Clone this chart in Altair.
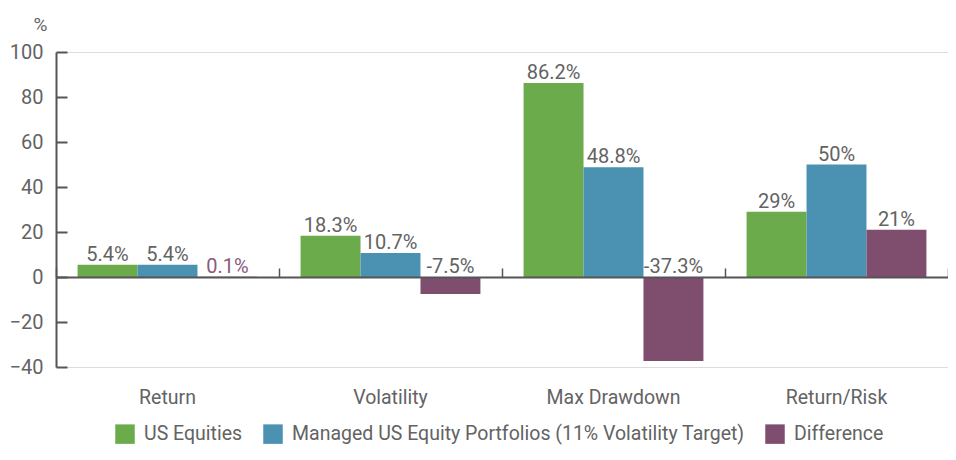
import altair as alt
import pandas as pd

categories = ["Return", "Volatility", "Max Drawdown", "Return/Risk"]
series = ["US Equities", "Managed US Equity Portfolios (11% Volatility Target)", "Difference"]
us_equities = [5.4, 18.3, 86.2, 29]
managed = [5.4, 10.7, 48.8, 50]
difference = [0.1, -7.5, -37.3, 21]
labels_us = ["5.4%", "18.3%", "86.2%", "29%"]
labels_managed = ["5.4%", "10.7%", "48.8%", "50%"]
labels_diff = ["0.1%", "-7.5%", "-37.3%", "21%"]
y_ticks = [-40, -20, 0, 20, 40, 60, 80, 100]
colors = ["#6cab4c", "#4a91b2", "#7f4e6e"]

rows = []
for s, vals, labs in zip(series, [us_equities, managed, difference], [labels_us, labels_managed, labels_diff]):
    for c, v, l in zip(categories, vals, labs):
        rows.append({"category": c, "series": s, "value": v, "label": l})
df = pd.DataFrame(rows)

FONT = "Roboto"
GREY = "#636363"
W, H = 892, 315

x_scale = alt.Scale(domain=categories, paddingInner=0, paddingOuter=0)
off_scale = alt.Scale(domain=series, paddingInner=0, paddingOuter=0.36)
y_scale = alt.Scale(domain=[-40, 100], nice=False, zero=False)

base = alt.Chart(df)

bars = base.mark_bar(cornerRadius=0).encode(
    x=alt.X("category:N", scale=x_scale, sort=categories,
            axis=alt.Axis(orient="bottom", title=None, domain=False, ticks=False,
                          labelAngle=0, labelFontSize=19.5, labelColor=GREY,
                          labelFont=FONT, labelPadding=21)),
    xOffset=alt.XOffset("series:N", sort=series, scale=off_scale),
    y=alt.Y("value:Q", scale=y_scale,
            axis=alt.Axis(orient="left", values=y_ticks, title="%", titleAngle=0,
                          titleX=-16, titleY=-28, titleAlign="center", titleBaseline="middle",
                          titleFont=FONT, titleFontSize=19, titleFontWeight="normal", titleColor=GREY,
                          domain=True, domainColor="#555555", domainWidth=2,
                          ticks=False, tickSize=0, grid=False,
                          labelFontSize=20, labelColor=GREY, labelFont=FONT, labelPadding=13)),
    color=alt.Color("series:N", sort=series, scale=alt.Scale(domain=series, range=colors),
                    legend=alt.Legend(title=None, orient="none", direction="horizontal",
                                      legendX=59, legendY=372, symbolType="square", symbolSize=380,
                                      symbolStrokeWidth=0, symbolOpacity=1, labelLimit=0,
                                      labelFont=FONT, labelFontSize=19.5, labelColor=GREY,
                                      labelOffset=9, columnPadding=20, padding=0)),
)

text = base.mark_text(baseline="alphabetic", align="center", dy=-4, font=FONT, fontSize=20).transform_calculate(
    ly="max(datum.value, 0)"
).encode(
    x=alt.X("category:N", scale=x_scale, sort=categories,
            axis=alt.Axis(orient="top", offset=-225, title=None, labels=False,
                          domain=True, domainColor="#555555", domainWidth=2,
                          ticks=True, tickBand="extent", tickSize=9, tickColor="#555555", tickWidth=1.5,
                          zindex=1)),
    xOffset=alt.XOffset("series:N", sort=series, scale=off_scale),
    y=alt.Y("ly:Q", scale=y_scale,
            axis=alt.Axis(orient="right", offset=-W, values=y_ticks, title=None, labels=False,
                          domain=False, ticks=True, tickSize=11, tickColor="#555555", tickWidth=2,
                          grid=False)),
    text="label:N",
    color=alt.condition("abs(datum.value) < 1", alt.value("#8a5a7c"), alt.value(GREY)),
)

chart = alt.layer(bars, text).resolve_axis(x="independent", y="independent").properties(
    width=W, height=H,
    autosize=alt.AutoSizeParams(type="none"),
    padding={"left": 48, "top": 44, "right": 0, "bottom": 81},
).configure_view(stroke=None).configure(font=FONT)

chart.save("out.html", embed_options={"renderer": "svg", "actions": False})
